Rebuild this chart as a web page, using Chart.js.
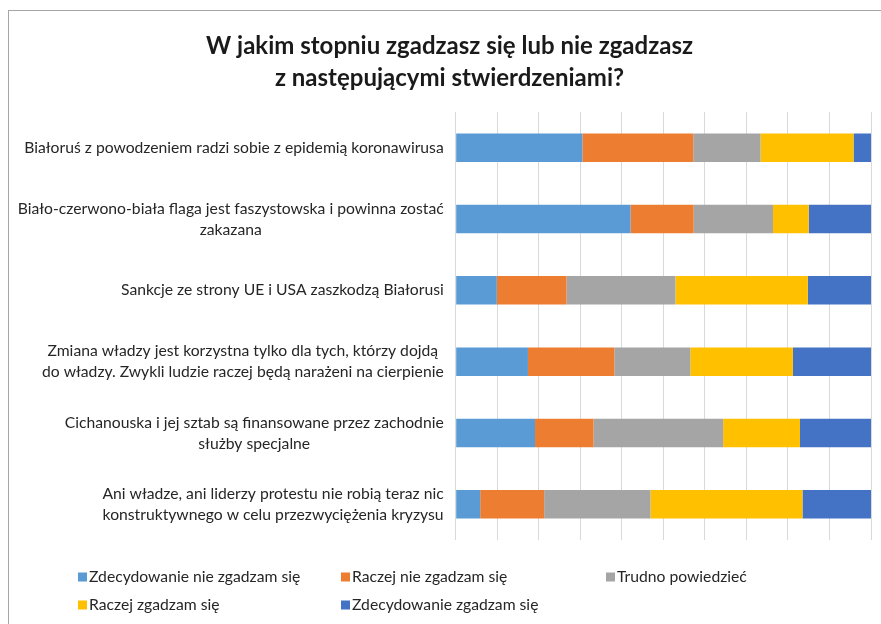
<!DOCTYPE html>
<html>
<head>
<meta charset="utf-8">
<script src="https://cdn.jsdelivr.net/npm/chart.js@4.4.1/dist/chart.umd.min.js"></script>
<style>
  html, body { margin: 0; padding: 0; background: #ffffff; overflow: hidden; }
  #wrap { position: relative; width: 881px; height: 624px; }
  #frame { position: absolute; left: 8px; top: 10px; width: 900px; height: 700px; border: 1px solid #a6a6a6; box-sizing: border-box; }
  canvas { position: absolute; left: 0; top: 0; }
</style>
</head>
<body>
<div id="wrap">
  <div id="frame"></div>
  <canvas id="c" width="881" height="624"></canvas>
</div>
<script>
// ---- data ----
const titleLines = ["W jakim stopniu zgadzasz się lub nie zgadzasz", "z następującymi stwierdzeniami?"];
const categories = [
  ["Białoruś z powodzeniem radzi sobie z epidemią koronawirusa"],
  ["Biało-czerwono-biała flaga jest faszystowska i powinna zostać", "zakazana"],
  ["Sankcje ze strony UE i USA zaszkodzą Białorusi"],
  ["Zmiana władzy jest korzystna tylko dla tych, którzy dojdą", "do władzy. Zwykli ludzie raczej będą narażeni na cierpienie"],
  ["Cichanouska i jej sztab są finansowane przez zachodnie", "służby specjalne"],
  ["Ani władze, ani liderzy protestu nie robią teraz nic", "konstruktywnego w celu przezwyciężenia kryzysu"]
];
const seriesNames = ["Zdecydowanie nie zgadzam się", "Raczej nie zgadzam się", "Trudno powiedzieć", "Raczej zgadzam się", "Zdecydowanie zgadzam się"];
const zdecydowanieNie = [30.5, 42.1, 9.9, 17.4, 19.1, 5.9];
const raczejNie      = [26.7, 15.2, 16.8, 20.8, 14.1, 15.4];
const trudno         = [16.2, 19.1, 26.2, 18.3, 31.2, 25.6];
const raczejTak      = [22.4, 8.6, 31.9, 24.7, 18.5, 36.6];
const zdecydowanieTak= [4.2, 15.0, 15.2, 18.8, 17.1, 16.5];
const seriesValues = [zdecydowanieNie, raczejNie, trudno, raczejTak, zdecydowanieTak];
const seriesColors = ["#5B9BD5", "#ED7D31", "#A5A5A5", "#FFC000", "#4472C4"];

const FONT = "Lato";
const labelFont = "15.7px " + FONT;
const textColor = "#262626";

// Category labels: each block right-aligned to the axis, lines centered inside the block
const catLabelPlugin = {
  id: 'catLabels',
  afterDraw(chart) {
    const ctx = chart.ctx;
    const y = chart.scales.y;
    ctx.save();
    ctx.font = labelFont;
    ctx.fillStyle = textColor;
    ctx.textAlign = 'center';
    ctx.textBaseline = 'middle';
    const rightEdge = y.right - 12;
    const lh = 21;
    y.ticks.forEach((t, i) => {
      const lines = chart.data.labels[i];
      const w = Math.max(...lines.map(l => ctx.measureText(l).width));
      const cx = rightEdge - w / 2;
      const cy = y.getPixelForTick(i);
      const top = cy - (lines.length - 1) * lh / 2;
      lines.forEach((l, k) => ctx.fillText(l, cx, top + k * lh));
    });
    ctx.restore();
  }
};

// Legend in a fixed grid (3 columns)
const gridLegendPlugin = {
  id: 'gridLegend',
  afterDraw(chart) {
    const ctx = chart.ctx;
    const colX = [78, 341, 606];
    const rowY = [577, 605];
    ctx.save();
    ctx.font = labelFont;
    ctx.textBaseline = 'middle';
    ctx.textAlign = 'left';
    chart.data.datasets.forEach((ds, i) => {
      const x = colX[i % 3], yy = rowY[Math.floor(i / 3)];
      ctx.fillStyle = ds.backgroundColor;
      ctx.fillRect(x, yy - 4.5, 9, 9);
      ctx.fillStyle = textColor;
      ctx.fillText(ds.label, x + 11, yy);
    });
    ctx.restore();
  }
};

new Chart(document.getElementById('c'), {
  type: 'bar',
  data: {
    labels: categories,
    datasets: seriesValues.map((vals, i) => ({
      label: seriesNames[i],
      data: vals,
      backgroundColor: seriesColors[i],
      borderWidth: 0,
      categoryPercentage: 1.0,
      barPercentage: 0.4
    }))
  },
  options: {
    indexAxis: 'y',
    responsive: false,
    animation: false,
    layout: { padding: { left: 28, right: 10, top: 0, bottom: 84 } },
    scales: {
      x: {
        stacked: true,
        min: 0, max: 100,
        ticks: { display: false, stepSize: 10 },
        grid: { color: '#D9D9D9', lineWidth: 1, drawTicks: false },
        border: { display: false }
      },
      y: {
        stacked: true,
        ticks: { display: false },
        grid: { display: false, drawTicks: false },
        border: { display: false },
        afterFit(scale) { scale.width = 427.7; }
      }
    },
    plugins: {
      legend: { display: false },
      tooltip: { enabled: false },
      title: {
        display: true,
        text: titleLines,
        color: '#1a1a1a',
        font: { family: FONT, size: 24, weight: 'bold', lineHeight: 1.3 },
        padding: { top: 31, bottom: 18.6 }
      }
    }
  },
  plugins: [catLabelPlugin, gridLegendPlugin]
});
</script>
</body>
</html>
